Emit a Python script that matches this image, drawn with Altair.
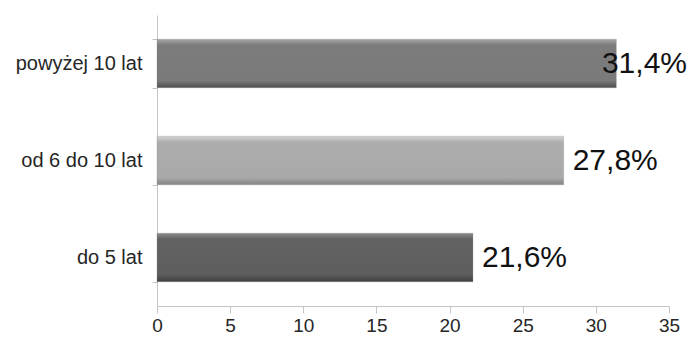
import altair as alt
import pandas as pd

categories = ["powyżej 10 lat", "od 6 do 10 lat", "do 5 lat"]
values = [31.4, 27.8, 21.6]
labels = ["31,4%", "27,8%", "21,6%"]

df = pd.DataFrame({"cat": categories, "value": values, "label": labels})

# gradient styles per bar (top light edge, main, dark bottom)
bar_styles = [
    ("#a6a6a6", "#7c7c7c", "#7a7a7a", "#4f4f4f"),
    ("#d6d6d6", "#adadad", "#a9a9a9", "#858585"),
    ("#8c8c8c", "#626262", "#5e5e5e", "#3e3e3e"),
]

xscale = alt.Scale(domain=[0, 35], nice=False, zero=True)
yscale = alt.Scale(domain=categories, paddingInner=0.5, paddingOuter=0.25)

base = alt.Chart(df)

layers = []
for cat, (c0, c1, c2, c3) in zip(categories, bar_styles):
    grad = alt.LinearGradient(
        gradient="linear",
        stops=[
            alt.GradientStop(color=c0, offset=0),
            alt.GradientStop(color=c1, offset=0.12),
            alt.GradientStop(color=c2, offset=0.85),
            alt.GradientStop(color=c3, offset=1),
        ],
        x1=0, x2=0, y1=0, y2=1,
    )
    layers.append(
        base.transform_filter(alt.datum.cat == cat)
        .mark_bar(color=grad, stroke="#8a8a8a", strokeWidth=0.5, strokeOpacity=0.6)
        .encode(
            x=alt.X("value:Q", scale=xscale,
                    axis=alt.Axis(values=[0, 5, 10, 15, 20, 25, 30, 35], title=None,
                                  grid=False, domainColor="#c4c4c4", tickColor="#c4c4c4",
                                  tickSize=7, labelFontSize=19, labelFont="Liberation Sans",
                                  labelColor="#262626", labelPadding=3, labelFlush=False)),
            y=alt.Y("cat:N", scale=yscale, sort=categories,
                    axis=alt.Axis(title=None, tickBand="extent", domainColor="#c4c4c4",
                                  tickColor="#c4c4c4", tickSize=5, labelFontSize=20,
                                  labelFont="Liberation Sans", labelColor="#262626",
                                  labelPadding=10)),
        )
    )

text = (
    base.transform_calculate(pos="min(datum.value, 29.8)")
    .mark_text(align="left", baseline="middle", dx=9, fontSize=30,
               font="Liberation Sans", color="#111111")
    .encode(
        x=alt.X("pos:Q", scale=xscale),
        y=alt.Y("cat:N", scale=yscale, sort=categories),
        text="label:N",
    )
)

chart = (
    alt.layer(*layers, text)
    .properties(
        width=512,
        height=291,
        autosize=alt.AutoSizeParams(type="none"),
        padding={"left": 157, "top": 15, "right": 20, "bottom": 38},
        background="white",
    )
    .configure_view(stroke=None)
)

chart.save("out.html", embed_options={"renderer": "svg", "actions": False})
